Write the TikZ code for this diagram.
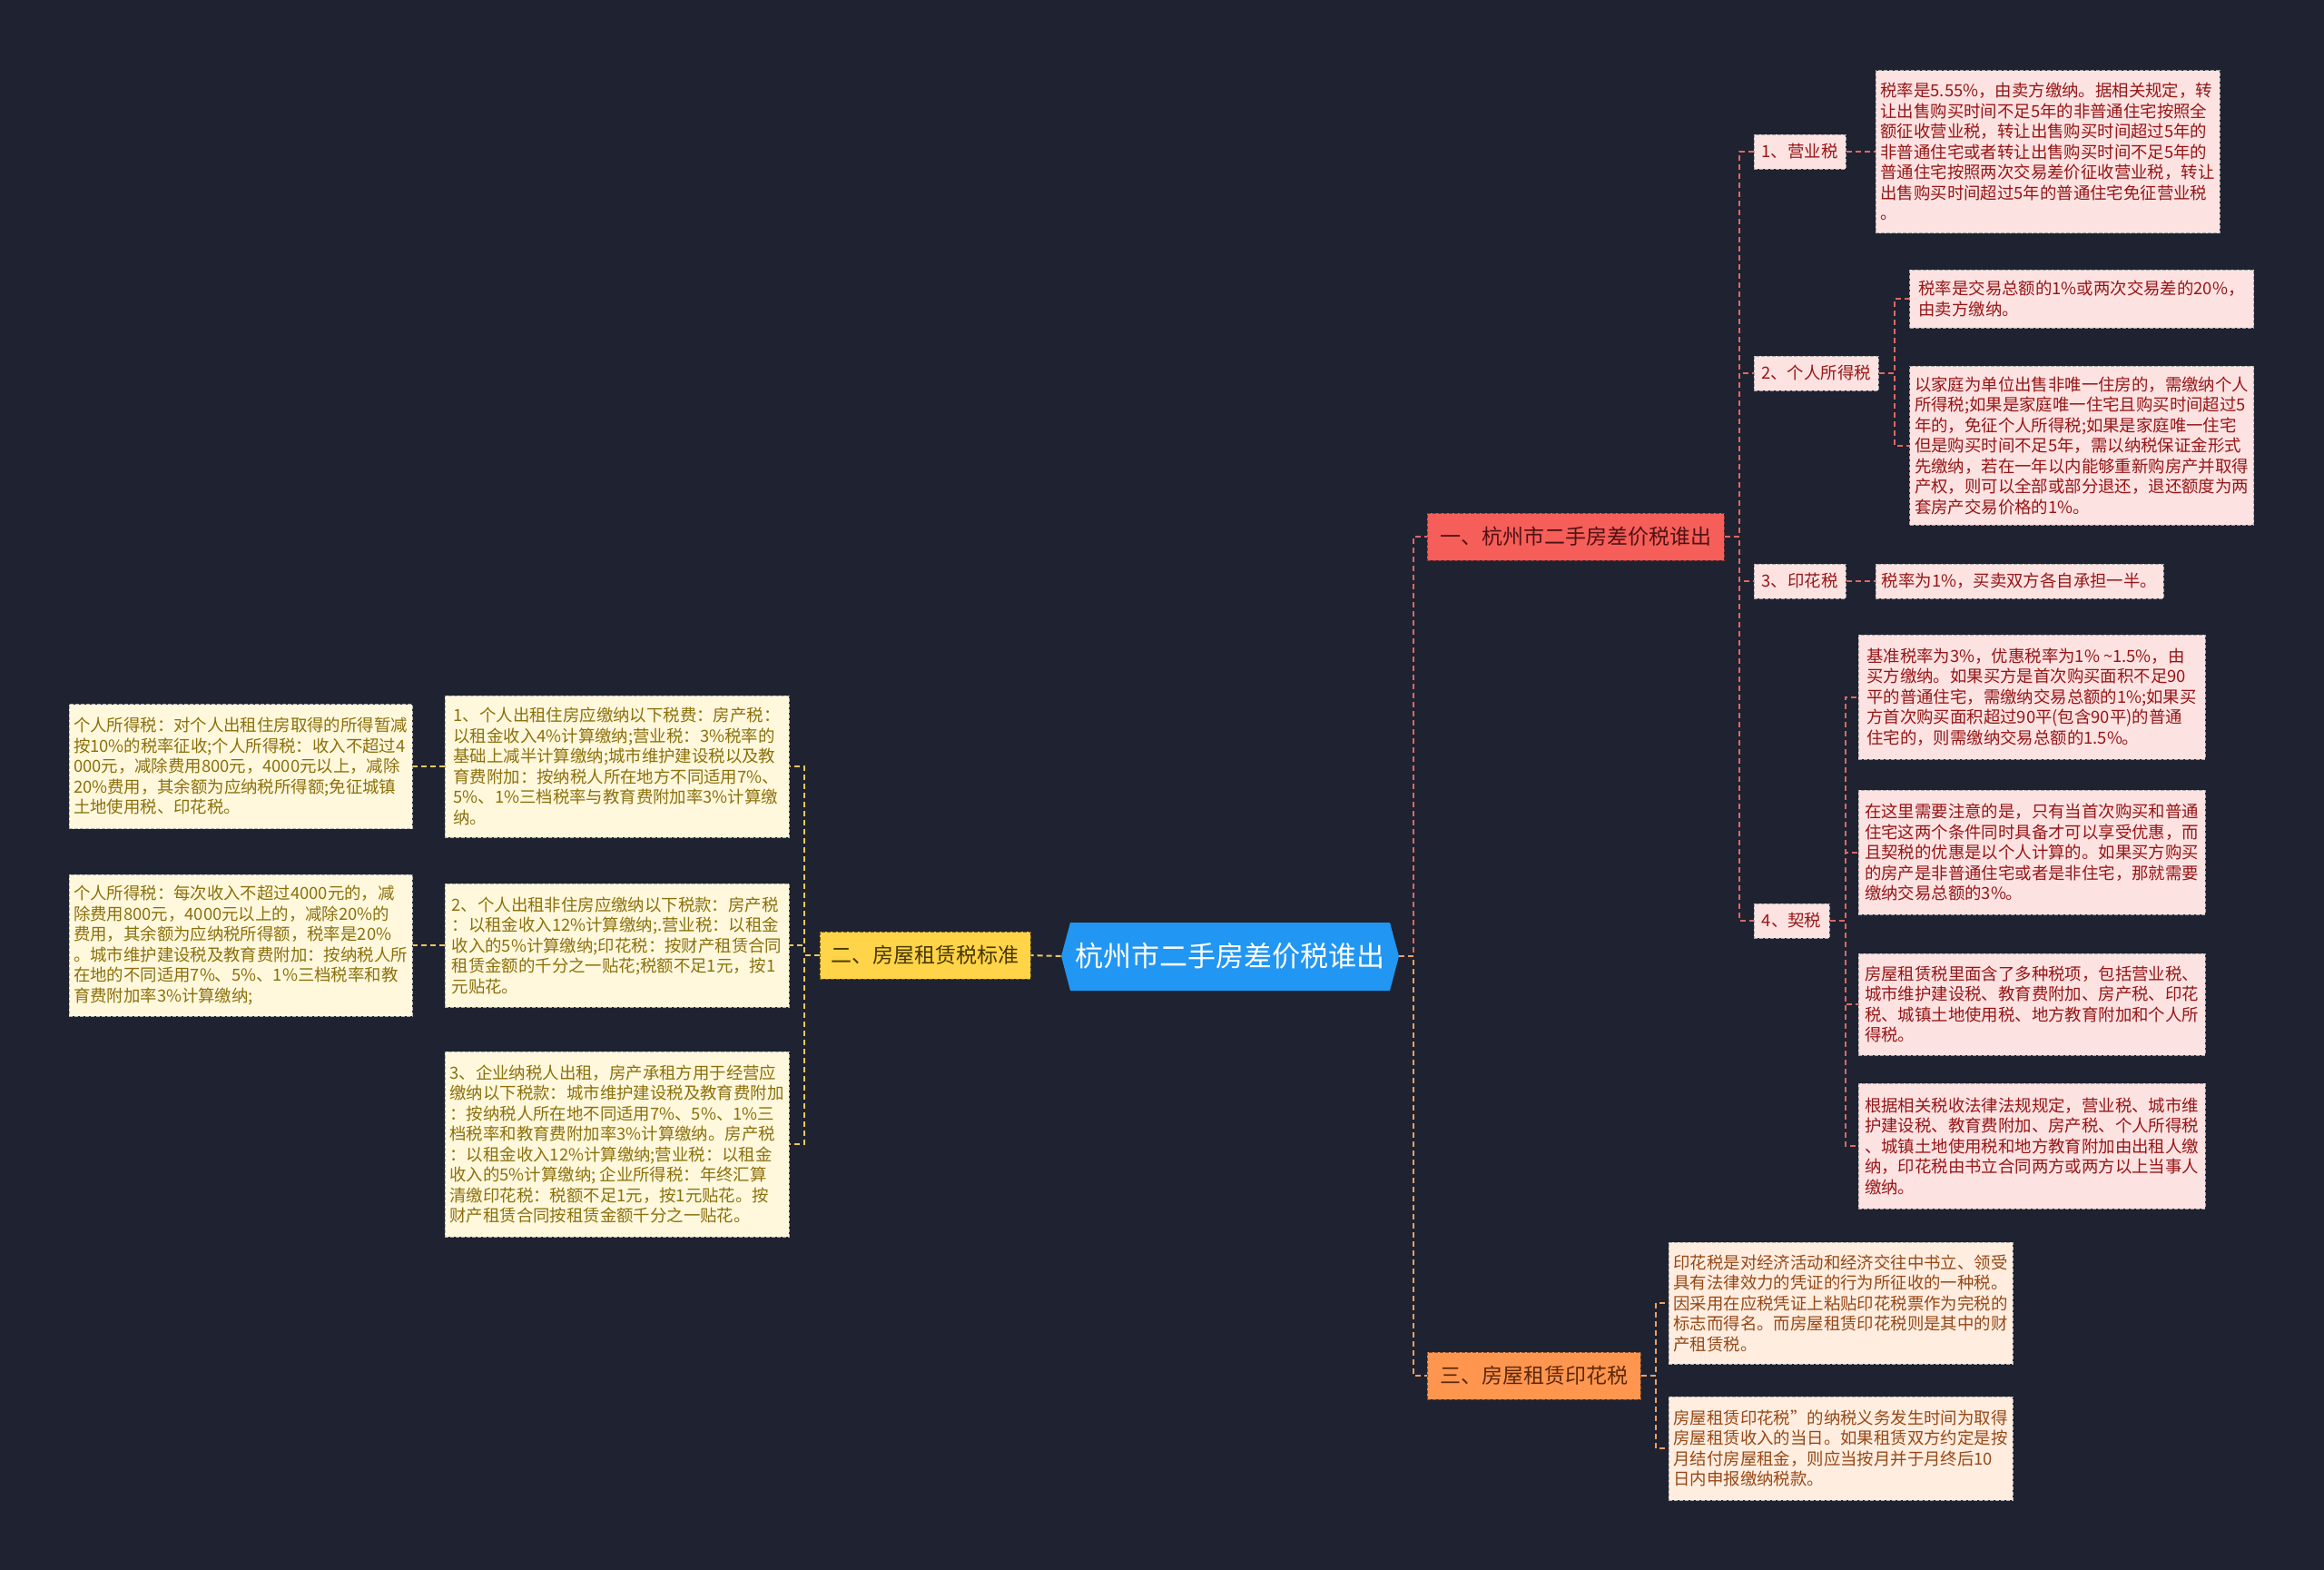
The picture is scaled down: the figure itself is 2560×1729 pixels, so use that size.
\documentclass[tikz,border=0pt]{standalone}
\usepackage{fontspec}
\setmainfont{Noto Sans CJK SC}
\usetikzlibrary{positioning}
\definecolor{bgdark}{RGB}{31,34,48}
\definecolor{rootblue}{RGB}{33,150,243}
\definecolor{redmain}{RGB}{246,94,90}
\definecolor{redtext}{RGB}{80,18,18}
\definecolor{pinkfill}{RGB}{253,226,226}
\definecolor{pinktext}{RGB}{150,22,22}
\definecolor{redline}{RGB}{222,104,100}
\definecolor{yellowmain}{RGB}{255,212,72}
\definecolor{yellowtext}{RGB}{70,55,0}
\definecolor{creamfill}{RGB}{255,248,221}
\definecolor{olivetext}{RGB}{140,112,12}
\definecolor{yellowline}{RGB}{238,200,92}
\definecolor{orangemain}{RGB}{255,150,80}
\definecolor{orangetext}{RGB}{92,40,10}
\definecolor{peachfill}{RGB}{255,237,224}
\definecolor{browntext}{RGB}{150,72,22}
\definecolor{orangeline}{RGB}{240,160,100}

\begin{document}
\begin{tikzpicture}[
    x=0.5pt, y=-0.5pt,
    rootnode/.style   = {minimum width=186pt, minimum height=37.5pt, inner sep=0pt,
                         text=white, font=\fontsize{15.5pt}{18pt}\selectfont},
    topic/.style      = {draw, dash pattern=on 2pt off 1pt, line width=0.5pt,
                         minimum height=26pt, inner sep=0pt,
                         font=\fontsize{11.5pt}{14pt}\selectfont},
    redtopic/.style   = {topic, fill=redmain, draw=redmain!55!black, text=redtext},
    yellowtopic/.style= {topic, fill=yellowmain, draw=yellowmain!45!black, text=yellowtext},
    orangetopic/.style= {topic, fill=orangemain, draw=orangemain!50!black, text=orangetext},
    tag/.style        = {draw=gray!70, dash pattern=on 2pt off 1pt, line width=0.5pt,
                         fill=pinkfill, text=pinktext, minimum height=19pt, inner sep=0pt,
                         font=\fontsize{9.2pt}{11.25pt}\selectfont},
    note/.style       = {dash pattern=on 2pt off 1pt, line width=0.5pt, align=left,
                         minimum width=189.5pt, inner sep=0pt,
                         font=\fontsize{9.2pt}{11.25pt}\selectfont},
    pinknote/.style   = {note, draw=gray!70, fill=pinkfill, text=pinktext},
    creamnote/.style  = {note, draw=gray!60, fill=creamfill, text=olivetext},
    peachnote/.style  = {note, draw=gray!60, fill=peachfill, text=browntext},
    link/.style       = {line width=1pt, dash pattern=on 3pt off 2pt},
    redlink/.style    = {link, draw=redline},
    yellowlink/.style = {link, draw=yellowline},
    orangelink/.style = {link, draw=orangeline}
  ]
  \fill[bgdark] (0,0) rectangle (2560,1729);

  \fill[rootblue] (1169,1053) -- (1179,1016) -- (1531,1016) -- (1541,1053)
                  -- (1531,1091) -- (1179,1091) -- cycle;
  \node[rootnode] (root) at (1355,1053) {杭州市二手房差价税谁出};

  \node[redtopic,    minimum width=163.5pt] (yi)  at (1735.5,591)  {一、杭州市二手房差价税谁出};
  \node[yellowtopic, minimum width=116pt]   (er)  at (1019,1052)   {二、房屋租赁税标准};
  \node[orangetopic, minimum width=117.5pt] (san) at (1689.5,1515) {三、房屋租赁印花税};

  \node[tag, minimum width=50.5pt] (s1) at (1982.5,167)  {1、营业税};
  \node[tag, minimum width=68.5pt] (s2) at (2000.5,411)  {2、个人所得税};
  \node[tag, minimum width=50.5pt] (s3) at (1982.5,640)  {3、印花税};
  \node[tag, minimum width=41.5pt] (s4) at (1973.5,1014) {4、契税};

  \node[pinknote, minimum height=89.5pt, right=16pt of s1] (d1)
    {税率是5.55\%，由卖方缴纳。据相关规定，转\\
     让出售购买时间不足5年的非普通住宅按照全\\
     额征收营业税，转让出售购买时间超过5年的\\
     非普通住宅或者转让出售购买时间不足5年的\\
     普通住宅按照两次交易差价征收营业税，转让\\
     出售购买时间超过5年的普通住宅免征营业税\\
     。};
  \node[pinknote, minimum height=32pt] (d2a) at (2293,329)
    {税率是交易总额的1\%或两次交易差的20\%，\\
     由卖方缴纳。};
  \node[pinknote, minimum height=87.5pt] (d2b) at (2293,490.5)
    {以家庭为单位出售非唯一住房的，需缴纳个人\\
     所得税;如果是家庭唯一住宅且购买时间超过5\\
     年的，免征个人所得税;如果是家庭唯一住宅\\
     但是购买时间不足5年，需以纳税保证金形式\\
     先缴纳，若在一年以内能够重新购房产并取得\\
     产权，则可以全部或部分退还，退还额度为两\\
     套房产交易价格的1\%。};
  \node[pinknote, minimum width=158.5pt, minimum height=19pt, right=16pt of s3] (d3)
    {税率为1\%，买卖双方各自承担一半。};
  \node[pinknote, minimum width=191pt, minimum height=68.5pt] (d4a) at (2238,767.5)
    {基准税率为3\%，优惠税率为1\% \textasciitilde1.5\%，由\\
     买方缴纳。如果买方是首次购买面积不足90\\
     平的普通住宅，需缴纳交易总额的1\%;如果买\\
     方首次购买面积超过90平(包含90平)的普通\\
     住宅的，则需缴纳交易总额的1.5\%。};
  \node[pinknote, minimum width=191pt, minimum height=68.5pt] (d4b) at (2238,938.5)
    {在这里需要注意的是，只有当首次购买和普通\\
     住宅这两个条件同时具备才可以享受优惠，而\\
     且契税的优惠是以个人计算的。如果买方购买\\
     的房产是非普通住宅或者是非住宅，那就需要\\
     缴纳交易总额的3\%。};
  \node[pinknote, minimum width=191pt, minimum height=56pt] (d4c) at (2238,1106)
    {房屋租赁税里面含了多种税项，包括营业税、\\
     城市维护建设税、教育费附加、房产税、印花\\
     税、城镇土地使用税、地方教育附加和个人所\\
     得税。};
  \node[pinknote, minimum width=191pt, minimum height=69pt] (d4d) at (2238,1262)
    {根据相关税收法律法规规定，营业税、城市维\\
     护建设税、教育费附加、房产税、个人所得税\\
     、城镇土地使用税和地方教育附加由出租人缴\\
     纳，印花税由书立合同两方或两方以上当事人\\
     缴纳。};

  \node[peachnote, minimum height=67pt] (sa) at (2027.5,1435)
    {印花税是对经济活动和经济交往中书立、领受\\
     具有法律效力的凭证的行为所征收的一种税。\\
     因采用在应税凭证上粘贴印花税票作为完税的\\
     标志而得名。而房屋租赁印花税则是其中的财\\
     产租赁税。};
  \node[peachnote, minimum height=57pt] (sb) at (2027.5,1595)
    {房屋租赁印花税”的纳税义务发生时间为取得\\
     房屋租赁收入的当日。如果租赁双方约定是按\\
     月结付房屋租金，则应当按月并于月终后10\\
     日内申报缴纳税款。};

  \node[creamnote, minimum height=78pt] (l1) at (679.5,844)
    {1、个人出租住房应缴纳以下税费：房产税：\\
     以租金收入4\%计算缴纳;营业税：3\%税率的\\
     基础上减半计算缴纳;城市维护建设税以及教\\
     育费附加：按纳税人所在地方不同适用7\%、\\
     5\%、1\%三档税率与教育费附加率3\%计算缴\\
     纳。};
  \node[creamnote, minimum height=68pt] (l2) at (679.5,1041)
    {2、个人出租非住房应缴纳以下税款：房产税\\
     ：以租金收入12\%计算缴纳;.营业税：以租金\\
     收入的5\%计算缴纳;印花税：按财产租赁合同\\
     租赁金额的千分之一贴花;税额不足1元，按1\\
     元贴花。};
  \node[creamnote, minimum height=102pt] (l3) at (679.5,1260)
    {3、企业纳税人出租，房产承租方用于经营应\\
     缴纳以下税款：城市维护建设税及教育费附加\\
     ：按纳税人所在地不同适用7\%、5\%、1\%三\\
     档税率和教育费附加率3\%计算缴纳。房产税\\
     ：以租金收入12\%计算缴纳;营业税：以租金\\
     收入的5\%计算缴纳; 企业所得税：年终汇算\\
     清缴印花税：税额不足1元，按1元贴花。按\\
     财产租赁合同按租赁金额千分之一贴花。};
  \node[creamnote, minimum width=189pt, minimum height=68.5pt, left=17.5pt of l1] (ll1)
    {个人所得税：对个人出租住房取得的所得暂减\\
     按10\%的税率征收;个人所得税：收入不超过4\\
     000元，减除费用800元，4000元以上，减除\\
     20\%费用，其余额为应纳税所得额;免征城镇\\
     土地使用税、印花税。};
  \node[creamnote, minimum width=189pt, minimum height=78pt, left=17.5pt of l2] (ll2)
    {个人所得税：每次收入不超过4000元的，减\\
     除费用800元，4000元以上的，减除20\%的\\
     费用，其余额为应纳税所得额，税率是20\%\\
     。城市维护建设税及教育费附加：按纳税人所\\
     在地的不同适用7\%、5\%、1\%三档税率和教\\
     育费附加率3\%计算缴纳;};

  \draw[redlink]    (root.east) -- ++(16,0) |- (yi.west);
  \draw[orangelink] (root.east) -- ++(16,0) |- (san.west);
  \draw[yellowlink] (root.west) -- (er.east);
  \foreach \n in {s1,s2,s3,s4}
    \draw[redlink] (yi.east) -- ++(16,0) |- (\n.west);
  \draw[redlink] (s1.east) -- (d1.west);
  \foreach \n in {d2a,d2b}
    \draw[redlink] (s2.east) -- ++(17,0) |- (\n.west);
  \draw[redlink] (s3.east) -- (d3.west);
  \foreach \n in {d4a,d4b,d4c,d4d}
    \draw[redlink] (s4.east) -- ++(17,0) |- (\n.west);
  \foreach \n in {sa,sb}
    \draw[orangelink] (san.east) -- ++(16,0) |- (\n.west);
  \foreach \n in {l1,l2,l3}
    \draw[yellowlink] (er.west) -- ++(-17,0) |- (\n.east);
  \draw[yellowlink] (l1.west) -- (ll1.east);
  \draw[yellowlink] (l2.west) -- (ll2.east);
\end{tikzpicture}
\end{document}
